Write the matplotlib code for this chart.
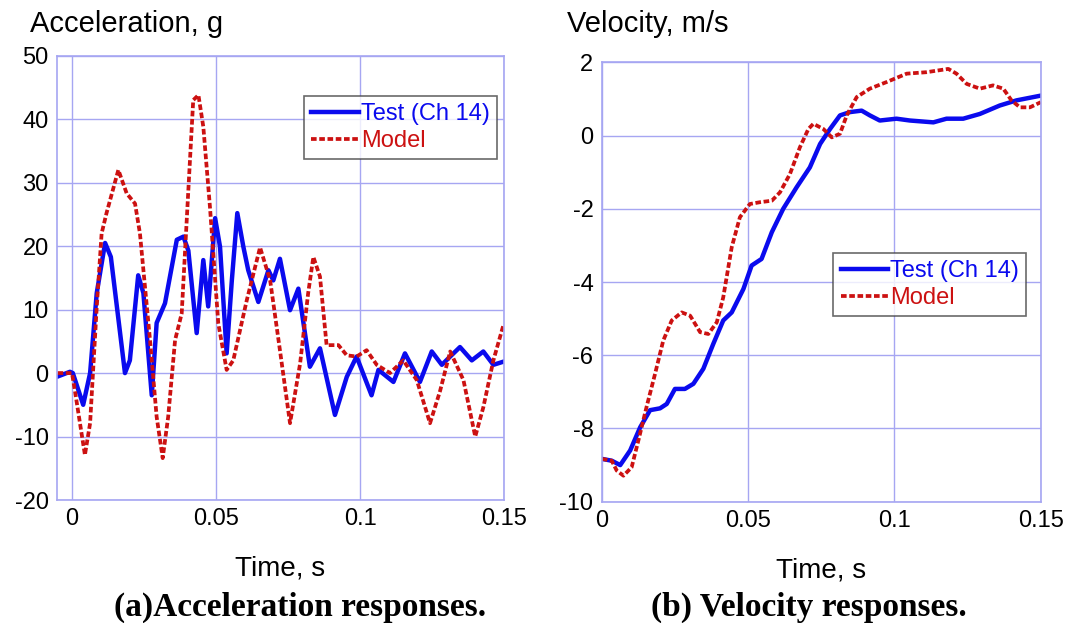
import matplotlib.pyplot as plt

plt.rcParams["font.family"] = ["Liberation Sans", "DejaVu Sans"]
plt.rcParams["axes.unicode_minus"] = False

# ---- acceleration (left) ----
acc_test_t = [-0.0053, -0.0007, 0.0003, 0.0039, 0.0063, 0.0086, 0.0115, 0.0135, 0.0184, 0.0201,
              0.023, 0.0248, 0.0277, 0.0294, 0.0323, 0.0364, 0.0387, 0.0404, 0.0433, 0.0456,
              0.0473, 0.0497, 0.0514, 0.0537, 0.0555, 0.0574, 0.0595, 0.0612, 0.0647, 0.0682,
              0.0699, 0.0722, 0.0757, 0.0786, 0.0826, 0.0861, 0.0913, 0.0954, 0.0988, 0.104,
              0.1064, 0.1116, 0.1156, 0.1208, 0.1249, 0.1284, 0.1313, 0.1347, 0.1388, 0.1428,
              0.1463, 0.1498]
acc_test_g = [-0.6, 0.2, 0.0, -5.0, 0.0, 12.6, 20.5, 18.3, 0.0, 2.0,
              15.4, 12.6, -3.5, 7.9, 11.0, 21.0, 21.5, 19.3, 6.3, 17.8,
              10.5, 24.4, 19.9, 3.1, 14.6, 25.2, 19.9, 16.2, 11.2, 16.2,
              14.6, 18.0, 9.9, 13.3, 1.0, 3.9, -6.6, -0.6, 2.6, -3.5,
              0.5, -1.4, 3.1, -1.4, 3.4, 1.3, 2.6, 4.1, 2.0, 3.4,
              1.3, 1.8]

acc_model_t = [-0.005, 0.0, 0.001, 0.0045, 0.0063, 0.0086, 0.0103, 0.012, 0.0161, 0.019,
               0.0219, 0.0236, 0.0271, 0.0294, 0.0315, 0.0334, 0.0358, 0.0381, 0.0404, 0.0421,
               0.0439, 0.0456, 0.0479, 0.0508, 0.0537, 0.056, 0.0607, 0.0653, 0.0688, 0.0722,
               0.0757, 0.0792, 0.082, 0.0838, 0.0861, 0.0884, 0.0925, 0.0954, 0.0988, 0.1023,
               0.1058, 0.1104, 0.115, 0.1197, 0.1243, 0.1278, 0.1313, 0.1359, 0.14, 0.1428,
               0.1463, 0.1498]
acc_model_g = [0.0, 0.0, -2.7, -12.9, -7.9, 10.4, 22.0, 25.2, 32.0, 28.3,
               26.7, 22.0, 5.2, -6.9, -13.4, -6.9, 5.2, 9.4, 28.8, 43.0,
               43.8, 38.8, 26.2, 7.8, 0.5, 2.0, 11.5, 19.8, 14.6, 3.6,
               -7.9, 1.5, 12.6, 18.3, 15.2, 4.4, 4.4, 2.8, 2.6, 3.6,
               1.3, 0.0, 2.0, -1.1, -7.9, -2.8, 3.4, -1.1, -10.0, -5.4,
               2.0, 7.6]

# ---- velocity (right) ----
vel_test_t = [0.0, 0.0034, 0.0063, 0.0097, 0.0131, 0.0165, 0.0199, 0.0222, 0.025, 0.0284,
              0.0313, 0.0347, 0.0381, 0.0415, 0.0444, 0.0484, 0.0512, 0.0546, 0.0581, 0.062,
              0.0666, 0.0711, 0.0746, 0.078, 0.0814, 0.0848, 0.0888, 0.0916, 0.095, 0.1007,
              0.1053, 0.1133, 0.1178, 0.1235, 0.1292, 0.136, 0.1417, 0.15]
vel_test_v = [-8.83, -8.88, -9.0, -8.6, -7.97, -7.5, -7.45, -7.33, -6.92, -6.92,
              -6.78, -6.37, -5.69, -5.05, -4.83, -4.19, -3.55, -3.37, -2.64, -2.0,
              -1.41, -0.87, -0.23, 0.18, 0.55, 0.64, 0.68, 0.55, 0.41, 0.46,
              0.41, 0.36, 0.46, 0.46, 0.59, 0.82, 0.96, 1.09]

vel_model_t = [0.0, 0.0034, 0.0051, 0.0074, 0.0102, 0.0125, 0.0154, 0.0182, 0.021, 0.0239,
               0.0273, 0.0302, 0.0336, 0.0364, 0.0393, 0.0415, 0.0444, 0.0472, 0.0506, 0.0541,
               0.0581, 0.0609, 0.0643, 0.0677, 0.0706, 0.0723, 0.0757, 0.0786, 0.0814, 0.0837,
               0.0871, 0.0916, 0.0973, 0.1042, 0.111, 0.1184, 0.1212, 0.1247, 0.1292, 0.1337,
               0.1372, 0.14, 0.1429, 0.1463, 0.15]
vel_model_v = [-8.83, -8.88, -9.15, -9.29, -9.06, -8.33, -7.38, -6.51, -5.6, -5.05,
               -4.83, -4.92, -5.37, -5.42, -5.1, -4.42, -3.05, -2.23, -1.87, -1.82,
               -1.78, -1.55, -1.05, -0.32, 0.18, 0.32, 0.18, -0.05, 0.05, 0.55,
               1.05, 1.28, 1.46, 1.69, 1.73, 1.82, 1.69, 1.41, 1.28, 1.37,
               1.28, 0.96, 0.77, 0.77, 0.91]

x_ticks = [0, 0.05, 0.1, 0.15]
x_tick_labels = ["0", "0.05", "0.1", "0.15"]

blue = "#0a0aee"
red = "#cc1111"
gridc = "#a6a6f2"

fig = plt.figure(figsize=(10.67, 6.23), dpi=100)
ax1 = fig.add_axes([0.0534, 0.1974, 0.419, 0.7132])
ax2 = fig.add_axes([0.564, 0.1947, 0.4114, 0.7053])


def style(ax):
    ax.set_xticks(x_ticks)
    ax.set_xticklabels(x_tick_labels)
    ax.grid(True, color=gridc, linewidth=1)
    ax.set_axisbelow(True)
    ax.tick_params(length=0, labelsize=17, pad=6)
    for s in ax.spines.values():
        s.set_color(gridc)
        s.set_linewidth(1.2)
    ax.set_xlabel("Time, s", fontsize=20, labelpad=18)


ax1.plot(acc_test_t, acc_test_g, color=blue, lw=3.2, label="Test (Ch 14)")
ax1.plot(acc_model_t, acc_model_g, color=red, lw=2.7, dashes=(1.5, 0.7), label="Model")
ax1.set_xlim(-0.0052, 0.15)
ax1.set_ylim(-20, 50)
ax1.set_yticks(range(-20, 51, 10))
style(ax1)
ax1.legend(loc="upper right", bbox_to_anchor=(0.984, 0.909), fontsize=17,
           labelcolor="linecolor", fancybox=False, edgecolor="#444444",
           handlelength=2.0, handletextpad=0.1, borderpad=0.3, labelspacing=0.2,
           borderaxespad=0).get_frame().set_linewidth(1.2)

ax2.plot(vel_test_t, vel_test_v, color=blue, lw=3.2, label="Test (Ch 14)")
ax2.plot(vel_model_t, vel_model_v, color=red, lw=2.7, dashes=(1.5, 0.7), label="Model")
ax2.set_xlim(0, 0.15)
ax2.set_ylim(-10, 2)
ax2.set_yticks(range(-10, 3, 2))
style(ax2)
ax2.legend(loc="upper right", bbox_to_anchor=(0.9665, 0.566), fontsize=17,
           labelcolor="linecolor", fancybox=False, edgecolor="#444444",
           handlelength=2.0, handletextpad=0.1, borderpad=0.3, labelspacing=0.2,
           borderaxespad=0).get_frame().set_linewidth(1.2)

fig.text(30 / 1067, 1 - 24 / 623, "Acceleration, g", fontsize=21, va="center", ha="left")
fig.text(567 / 1067, 1 - 24 / 623, "Velocity, m/s", fontsize=21, va="center", ha="left")

fig.text(300 / 1067, 1 - 607 / 623, "(a)Acceleration responses.", fontsize=24,
         fontweight="bold", family="Liberation Serif", ha="center", va="center")
fig.text(809 / 1067, 1 - 607 / 623, "(b) Velocity responses.", fontsize=24,
         fontweight="bold", family="Liberation Serif", ha="center", va="center")

fig.savefig("out.png", dpi=100)
